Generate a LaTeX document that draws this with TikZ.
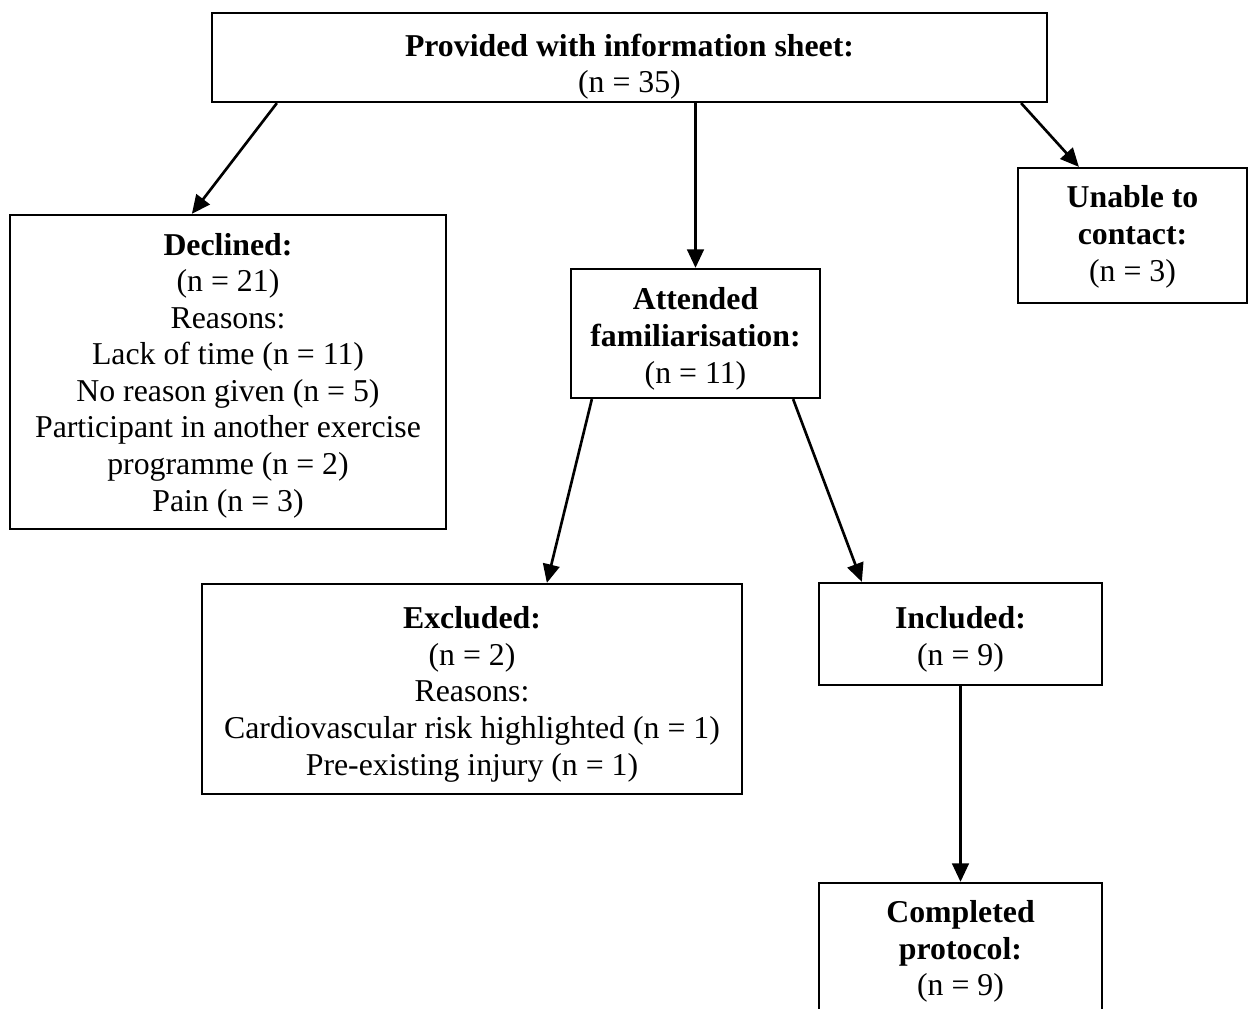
\documentclass[tikz,border=0pt]{standalone}
\usepackage{fontspec}
\setmainfont{Liberation Serif}
\usetikzlibrary{arrows.meta,calc}
\newcommand\pxunit{0.3774pt}
\begin{document}
\begin{tikzpicture}[x=0.3774pt, y=-0.3774pt,
  flowbox/.style={draw, line width=0.85pt, inner sep=0pt, align=center,
    text depth=0pt, font=\fontsize{12}{13.8}\selectfont},
  flowarrow/.style={line width=1pt, -{Triangle[length=7pt,width=6.3pt]}}]
\clip (0,0) rectangle (1249,1009);

% boxes
\node[flowbox, text height=26.7pt, minimum width={835*\pxunit}, minimum height={89*\pxunit}] (info) at (629.5,57.5)
  {\textbf{Provided with information sheet:}\\(n = 35)};
\node[flowbox, minimum width={436*\pxunit}, minimum height={314*\pxunit}] (declined) at (228,372)
  {\textbf{Declined:}\\(n = 21)\\Reasons:\\Lack of time (n = 11)\\No reason given (n = 5)\\Participant in another exercise\\programme (n = 2)\\Pain (n = 3)};
\node[flowbox, text height=34.4pt, minimum width={229*\pxunit}, minimum height={135*\pxunit}] (nocontact) at (1132.5,235.5)
  {\textbf{Unable to}\\\textbf{contact:}\\(n = 3)};
\node[flowbox, text height=37.4pt, minimum width={249*\pxunit}, minimum height={129*\pxunit}] (attended) at (695.5,333.5)
  {\textbf{Attended}\\\textbf{familiarisation:}\\(n = 11)};
\node[flowbox, text height=65pt, minimum width={540*\pxunit}, minimum height={210*\pxunit}] (excluded) at (472,689)
  {\textbf{Excluded:}\\(n = 2)\\Reasons:\\Cardiovascular risk highlighted (n = 1)\\Pre-existing injury (n = 1)};
\node[flowbox, text height=23.7pt, minimum width={283*\pxunit}, minimum height={102*\pxunit}] (included) at (960.5,634)
  {\textbf{Included:}\\(n = 9)};
\node[flowbox, text height=34.4pt, minimum width={283*\pxunit}, minimum height={134*\pxunit}] (completed) at (960.5,950)
  {\textbf{Completed}\\\textbf{protocol:}\\(n = 9)};

% connectors
\draw[flowarrow] ($(info.south west)+(66,0)$) -- ($(declined.north west)+(183,0)$);
\draw[flowarrow] (info.south -| attended.north) -- (attended.north);
\draw[flowarrow] ($(info.south east)+(-27,0)$) -- ($(nocontact.north west)+(62,0)$);
\draw[flowarrow] ($(attended.south west)+(22,0)$) -- ($(excluded.north west)+(346,0)$);
\draw[flowarrow] ($(attended.south east)+(-28,0)$) -- ($(included.north west)+(44,0)$);
\draw[flowarrow] (included.south) -- (completed.north);
\end{tikzpicture}
\end{document}
